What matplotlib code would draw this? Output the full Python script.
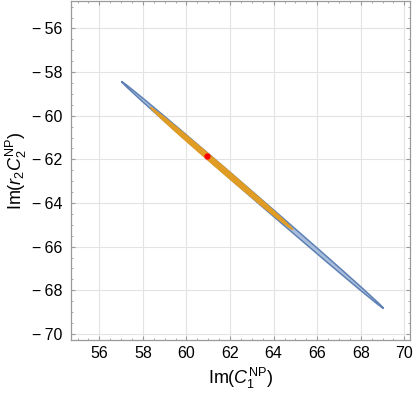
import numpy as np
import matplotlib
matplotlib.use("Agg")
from matplotlib import pyplot as plt
from matplotlib.patches import Ellipse
from matplotlib.ticker import MultipleLocator, FuncFormatter

plt.rcParams['font.family'] = ['Liberation Sans', 'DejaVu Sans']
plt.rcParams['mathtext.fontset'] = 'custom'
plt.rcParams['mathtext.rm'] = 'Liberation Sans'
plt.rcParams['mathtext.it'] = 'Liberation Sans:italic'

# ellipse regions: centre (x, y), half-length, half-width, angle (deg, data units)
outer_center = (63.03, -63.63)
outer_axes = (7.95, 0.115)
outer_angle = -40.85

inner_center = (61.61, -62.415)
inner_axes = (4.30, 0.125)
inner_angle = -40.6

best_fit = (60.96, -61.85)

x_lim = (54.70, 70.26)
y_lim = (-70.28, -54.74)
x_ticks = [56, 58, 60, 62, 64, 66, 68, 70]
y_ticks = [-70, -68, -66, -64, -62, -60, -58, -56]

fig = plt.figure(figsize=(4.15, 3.99), dpi=100)
ax = fig.add_axes([71 / 415, 59 / 399, 339 / 415, 339 / 399])

ax.add_patch(Ellipse(outer_center, 2 * outer_axes[0], 2 * outer_axes[1], angle=outer_angle,
                     facecolor='#a9bddc', edgecolor='#5e81b5', linewidth=1.1, zorder=3))
ax.add_patch(Ellipse(inner_center, 2 * inner_axes[0], 2 * inner_axes[1], angle=inner_angle,
                     facecolor='#e19c24', edgecolor='#e19c24', linewidth=0.8, zorder=4))
ax.plot([best_fit[0]], [best_fit[1]], 'o', color='#ff0000', markersize=4.5,
        markeredgewidth=0, zorder=5)

ax.set_xlim(*x_lim)
ax.set_ylim(*y_lim)
ax.set_xticks(x_ticks)
ax.set_yticks(y_ticks)
ax.xaxis.set_minor_locator(MultipleLocator(0.5))
ax.yaxis.set_minor_locator(MultipleLocator(0.5))
ax.yaxis.set_major_formatter(FuncFormatter(
    lambda v, p: '\u2212\u2009' + f'{-v:g}' if v < 0 else f'{v:g}'))

ax.grid(True, which='major', color='#e3e3e3', linewidth=0.8, zorder=0)
ax.set_axisbelow(True)
for s in ax.spines.values():
    s.set_color('#9a9a9a')
    s.set_linewidth(0.9)
ax.tick_params(which='both', direction='in', top=True, right=True, color='#9a9a9a',
               labelsize=11.5, labelcolor='black')
ax.tick_params(which='major', length=3, width=0.8)
ax.tick_params(axis='x', which='major', pad=4)
ax.tick_params(axis='y', which='major', pad=6)
ax.tick_params(which='minor', length=1.6, width=0.6)

ax.set_xlabel(r'$\mathrm{Im}(C_1^{\mathrm{NP}})$', fontsize=13, labelpad=4)
ax.set_ylabel(r'$\mathrm{Im}(r_2 C_2^{\mathrm{NP}})$', fontsize=13, labelpad=2)

fig.savefig('out.png', dpi=100)
